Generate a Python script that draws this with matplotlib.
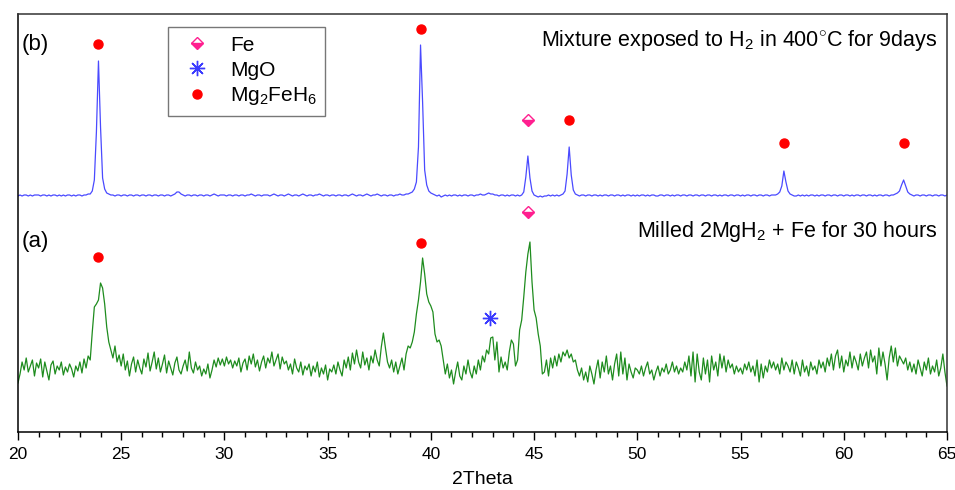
import numpy as np
import matplotlib
matplotlib.use("Agg")
import matplotlib.pyplot as plt
from matplotlib.ticker import MultipleLocator

plt.rcParams['font.family'] = ['Liberation Sans', 'DejaVu Sans']
plt.rcParams['mathtext.fontset'] = 'custom'
plt.rcParams['mathtext.rm'] = 'Liberation Sans'
plt.rcParams['mathtext.it'] = 'Liberation Sans:italic'

# scan grid, 0.1 deg step
two_theta = np.round(np.arange(20.0, 65.05, 0.1), 1)

# (b) exposed to H2, 400C, 9 days (arbitrary intensity units)
counts_b = [
    236, 237, 236, 237, 237, 236, 237, 236, 237, 237,
    237, 236, 237, 237, 236, 237, 236, 237, 237, 236,
    237, 236, 237, 236, 237, 237, 236, 237, 236, 237,
    237, 236, 237, 237, 238, 238, 241, 252, 300, 371,
    305, 254, 243, 239, 238, 237, 237, 236, 237, 237,
    236, 237, 237, 236, 237, 237, 236, 237, 237, 236,
    237, 237, 236, 237, 237, 236, 237, 237, 236, 237,
    237, 236, 237, 237, 236, 237, 238, 240, 240, 238,
    237, 236, 237, 237, 236, 237, 237, 236, 237, 237,
    236, 237, 237, 236, 237, 238, 237, 236, 237, 237,
    237, 236, 237, 237, 236, 237, 237, 236, 237, 237,
    236, 237, 237, 238, 237, 236, 237, 237, 236, 237,
    237, 237, 236, 237, 238, 237, 236, 237, 237, 236,
    237, 238, 237, 236, 237, 237, 236, 237, 238, 237,
    236, 237, 237, 236, 237, 237, 238, 237, 236, 237,
    237, 236, 237, 237, 236, 237, 237, 236, 237, 237,
    236, 237, 238, 237, 236, 237, 237, 236, 237, 238,
    237, 236, 237, 237, 238, 237, 236, 237, 237, 236,
    237, 237, 236, 237, 237, 238, 237, 237, 238, 238,
    239, 240, 243, 250, 285, 387, 330, 262, 247, 241,
    239, 238, 237, 236, 237, 235, 236, 237, 236, 237,
    236, 237, 237, 236, 237, 236, 237, 237, 236, 237,
    237, 236, 237, 237, 238, 237, 237, 238, 239, 238,
    238, 237, 237, 236, 237, 237, 236, 237, 236, 237,
    237, 236, 237, 236, 237, 240, 255, 276, 254, 241,
    237, 236, 235, 236, 235, 236, 236, 237, 236, 237,
    236, 237, 236, 237, 238, 241, 258, 285, 257, 242,
    238, 237, 236, 237, 237, 236, 237, 237, 236, 237,
    237, 236, 237, 236, 237, 237, 236, 237, 237, 236,
    237, 237, 236, 237, 236, 237, 237, 236, 237, 236,
    237, 236, 237, 237, 236, 237, 236, 237, 237, 236,
    236, 237, 237, 236, 237, 237, 236, 237, 236, 237,
    237, 236, 237, 237, 236, 237, 237, 236, 237, 237,
    236, 237, 237, 236, 237, 237, 236, 237, 237, 236,
    237, 236, 237, 237, 236, 237, 237, 236, 237, 237,
    236, 237, 236, 237, 237, 236, 237, 237, 236, 237,
    237, 236, 237, 237, 236, 237, 237, 237, 238, 240,
    246, 261, 250, 241, 238, 237, 236, 236, 237, 236,
    237, 236, 237, 236, 237, 237, 236, 237, 236, 237,
    237, 236, 237, 237, 236, 237, 237, 236, 237, 237,
    236, 237, 237, 236, 237, 236, 237, 237, 236, 237,
    237, 236, 237, 237, 236, 237, 236, 237, 237, 236,
    237, 237, 236, 237, 237, 238, 239, 241, 247, 252,
    246, 240, 238, 237, 236, 237, 237, 236, 237, 237,
    236, 237, 237, 236, 237, 237, 236, 237, 237, 236,
    237,
]

# (a) milled 2MgH2 + Fe, 30 h
counts_a = [
    49, 58, 70, 62, 74, 60, 66, 72, 56, 69,
    64, 73, 55, 70, 61, 52, 67, 71, 58, 66,
    62, 70, 57, 65, 60, 68, 63, 55, 66, 61,
    70, 59, 73, 64, 76, 72, 100, 125, 128, 132,
    149, 144, 128, 105, 90, 82, 74, 86, 70, 77,
    66, 78, 62, 71, 56, 68, 75, 60, 72, 64,
    58, 73, 65, 79, 61, 70, 80, 63, 74, 60,
    68, 77, 59, 71, 64, 57, 69, 75, 62, 58,
    66, 72, 61, 80, 64, 59, 70, 62, 66, 56,
    63, 58, 68, 54, 62, 72, 65, 74, 67, 73,
    66, 75, 68, 72, 64, 71, 66, 74, 60, 69,
    73, 62, 76, 68, 78, 65, 72, 61, 70, 76,
    64, 74, 69, 80, 66, 72, 78, 63, 75, 68,
    71, 62, 68, 58, 73, 64, 60, 70, 57, 66,
    62, 68, 56, 66, 60, 70, 55, 64, 58, 67,
    52, 63, 60, 67, 58, 70, 62, 56, 72, 64,
    75, 62, 79, 68, 82, 70, 64, 80, 67, 74,
    62, 76, 69, 82, 72, 66, 85, 99, 84, 70,
    64, 72, 60, 70, 58, 66, 74, 62, 78, 86,
    84, 90, 100, 118, 132, 150, 174, 158, 138, 130,
    126, 120, 98, 90, 92, 86, 72, 58, 68, 54,
    62, 48, 60, 70, 56, 52, 66, 58, 72, 60,
    54, 66, 58, 72, 62, 76, 70, 82, 78, 94,
    95, 72, 90, 60, 75, 64, 70, 62, 80, 92,
    88, 66, 72, 102, 112, 135, 160, 178, 190, 150,
    122, 114, 98, 86, 58, 60, 72, 56, 74, 64,
    76, 66, 78, 70, 80, 76, 82, 74, 78, 70,
    72, 62, 56, 64, 52, 60, 50, 66, 58, 48,
    62, 72, 54, 70, 60, 76, 58, 66, 52, 68,
    78, 56, 80, 58, 74, 52, 68, 60, 54, 64,
    62, 58, 66, 56, 64, 70, 58, 62, 52, 60,
    66, 56, 64, 60, 68, 58, 62, 70, 60, 66,
    58, 64, 60, 70, 62, 76, 56, 80, 50, 78,
    60, 52, 74, 58, 72, 50, 76, 62, 70, 56,
    78, 64, 76, 60, 72, 64, 68, 58, 66, 60,
    64, 58, 68, 62, 70, 60, 66, 56, 72, 50,
    68, 54, 66, 60, 72, 64, 70, 62, 68, 58,
    74, 62, 70, 66, 60, 72, 58, 70, 64, 56,
    72, 60, 66, 56, 70, 62, 66, 58, 72, 64,
    70, 60, 74, 66, 78, 62, 76, 82, 64, 76,
    60, 72, 66, 80, 64, 76, 70, 62, 78, 66,
    74, 80, 64, 82, 70, 76, 58, 84, 66, 80,
    68, 52, 74, 86, 70, 84, 66, 76, 72, 68,
    74, 62, 70, 60, 68, 58, 72, 64, 56, 70,
    62, 74, 58, 66, 60, 72, 56, 64, 78, 60,
    46,
]

# phase markers
mg2feh6_x = [23.9, 39.5, 46.7, 57.1, 62.9, 23.9, 39.5]
mg2feh6_y = [388, 403, 312, 289, 289, 175, 189]
fe_x = [44.7, 44.7]
fe_y = [312, 220]
mgo_x = [42.87]
mgo_y = [114]

fig = plt.figure(figsize=(9.55, 4.9), dpi=100)
ax = fig.add_axes([0.0188, 0.1184, 0.9728, 0.853])

ax.plot(two_theta, counts_b, color='#4a4aff', lw=0.9)
ax.plot(two_theta, counts_a, color='#1e8c1e', lw=0.9)

ax.plot(fe_x, fe_y, ls='none', marker='D', ms=6.5, color='#ff1f8f',
        fillstyle='bottom', markerfacecoloralt='white', mew=1.0, label='Fe')
ax.plot(mgo_x, mgo_y, ls='none', marker=(8, 2, 0), ms=11, color='#3a3aff',
        mew=1.0, label='MgO')
ax.plot(mg2feh6_x, mg2feh6_y, ls='none', marker='o', ms=6.5, color='#ff0000',
        label='Mg$_2$FeH$_6$')

ax.set_xlim(20, 65)
ax.set_ylim(0, 418)
ax.xaxis.set_major_locator(MultipleLocator(5))
ax.xaxis.set_minor_locator(MultipleLocator(1))
ax.tick_params(axis='x', which='major', direction='out', length=6, width=1.0,
               labelsize=12.5, pad=5)
ax.tick_params(axis='x', which='minor', direction='out', length=3.5, width=1.0)
ax.set_yticks([])
for s in ax.spines.values():
    s.set_linewidth(1.1)
ax.spines['right'].set_color('#333333')
ax.spines['top'].set_color('#333333')

ax.set_xlabel('2Theta', fontsize=14, labelpad=6)

ax.text(20.2, 388, '(b)', fontsize=16, va='center', ha='left')
ax.text(20.2, 190, '(a)', fontsize=16, va='center', ha='left')
ax.text(64.55, 392, 'Mixture exposed to H$_2$ in 400$^{\\circ}$C for 9days',
        fontsize=15.5, va='center', ha='right')
ax.text(64.55, 200, 'Milled 2MgH$_2$ + Fe for 30 hours',
        fontsize=15.5, va='center', ha='right')

leg = ax.legend(loc='upper left', bbox_to_anchor=(0.161, 0.968), fontsize=15,
                frameon=True, fancybox=False, edgecolor='#555555',
                handletextpad=0.6, labelspacing=0.28, borderpad=0.4,
                handlelength=2.0, borderaxespad=0)
leg.get_frame().set_linewidth(1.0)

fig.savefig('out.png', dpi=100)
